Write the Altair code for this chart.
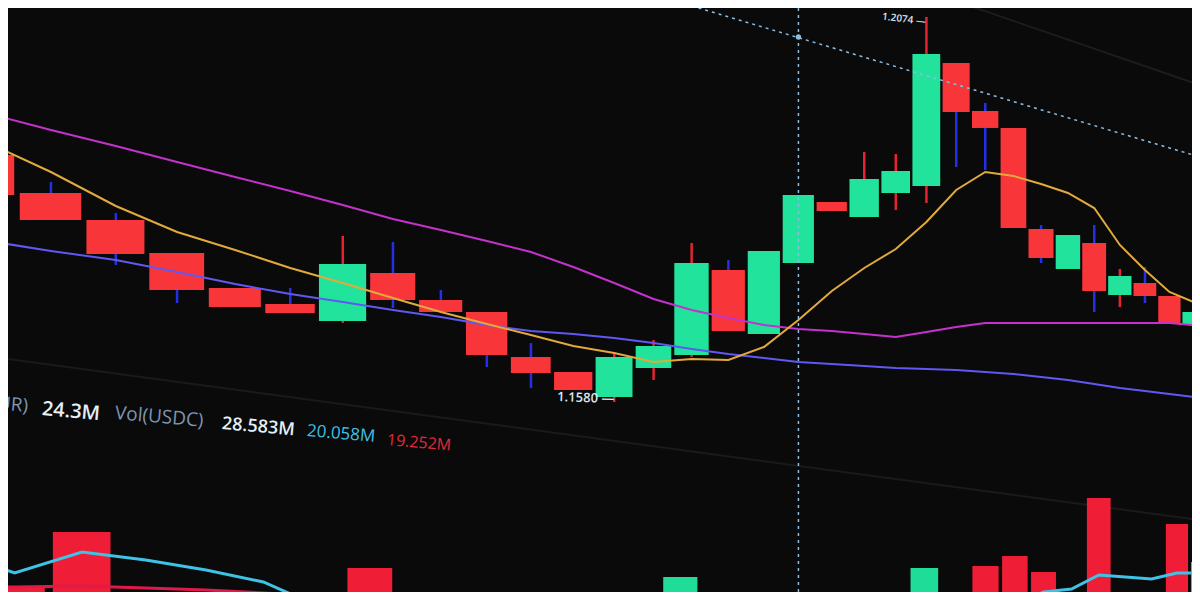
import altair as alt
import pandas as pd

# ---------------- data ----------------
idx = list(range(1, 33))
opens = [1.18969, 1.18482, 1.18135, 1.17712, 1.17263, 1.17058, 1.16840, 1.17455,
         1.17109, 1.16955, 1.16378, 1.16185, 1.15865, 1.16237, 1.16403, 1.17494,
         1.16673, 1.17584, 1.18366, 1.18174, 1.18482, 1.18572, 1.20150, 1.19534,
         1.19316, 1.18020, 1.17507, 1.17840, 1.17173, 1.17327, 1.17160, 1.16788]
highs = [1.18969, 1.18623, 1.18225, 1.17712, 1.17263, 1.17263, 1.17930, 1.17853,
         1.17237, 1.16955, 1.16557, 1.16185, 1.16429, 1.16596, 1.17840, 1.17622,
         1.17738, 1.18456, 1.18366, 1.19008, 1.18982, 1.20740, 1.20150, 1.19637,
         1.19316, 1.18071, 1.17943, 1.18071, 1.17507, 1.17532, 1.17160, 1.16955]
lows = [1.18456, 1.18135, 1.17558, 1.17070, 1.17019, 1.16942, 1.16814, 1.17006,
        1.16955, 1.16249, 1.15980, 1.15954, 1.15800, 1.16083, 1.16378, 1.16711,
        1.16673, 1.17584, 1.18251, 1.18174, 1.18264, 1.18354, 1.18815, 1.18777,
        1.18033, 1.17584, 1.17507, 1.16955, 1.17019, 1.17070, 1.16814, 1.16365]
closes = [1.18456, 1.18135, 1.17699, 1.17237, 1.17019, 1.16942, 1.17571, 1.17109,
          1.16955, 1.16403, 1.16172, 1.15954, 1.16378, 1.16519, 1.17584, 1.16711,
          1.17738, 1.18456, 1.18251, 1.18661, 1.18764, 1.20265, 1.19521, 1.19316,
          1.18033, 1.17648, 1.17943, 1.17224, 1.17417, 1.17160, 1.16814, 1.16955]
ma_fast = [1.19162, 1.18751, 1.18315, 1.17981, 1.17751, 1.17520, 1.17327, 1.17135,
           1.16955, 1.16801, 1.16660, 1.16519, 1.16429, 1.16314, 1.16352, 1.16339,
           1.16506, 1.16852, 1.17224, 1.17520, 1.17763, 1.18110, 1.18520, 1.18751,
           1.18700, 1.18597, 1.18482, 1.18289, 1.17815, 1.17494, 1.17212, 1.17083]
ma_mid = [1.19521, 1.19290, 1.19085, 1.18880, 1.18687, 1.18508, 1.18328, 1.18148,
          1.18007, 1.17866, 1.17725, 1.17532, 1.17327, 1.17122, 1.16981, 1.16878,
          1.16788, 1.16737, 1.16711, 1.16673, 1.16634, 1.16698, 1.16763, 1.16814,
          1.16814, 1.16814, 1.16814, 1.16814, 1.16814, 1.16814, 1.16814, 1.16788]
ma_slow = [1.17879, 1.17738, 1.17622, 1.17468, 1.17314, 1.17186, 1.17083, 1.16981,
           1.16891, 1.16788, 1.16711, 1.16673, 1.16622, 1.16557, 1.16480, 1.16416,
           1.16365, 1.16314, 1.16288, 1.16262, 1.16237, 1.16224, 1.16211, 1.16185,
           1.16160, 1.16121, 1.16083, 1.16031, 1.15980, 1.15942, 1.15903, 1.15865]
volumes = [7.0, 10.6, 21.6, 8.6, 7.0, 6.0, 7.0, 14.4, 7.0, 6.5, 6.0, 6.0, 7.0, 6.0,
           12.6, 9.0, 7.0, 6.0, 5.0, 6.0, 6.0, 14.4, 7.0, 14.8, 16.8, 13.6, 7.0,
           28.4, 8.6, 7.0, 23.2, 15.6]
vol_ma_fast = [18.4, 13.4, 17.6, 16.0, 14.0, 11.6, 6.8, 5.0, 4.0, 4.0, 4.0, 4.0,
               4.0, 4.0, 4.0, 4.0, 4.0, 4.0, 4.0, 4.0, 4.0, 4.0, 4.0, 4.0, 7.0,
               9.6, 10.2, 13.0, 12.6, 12.2, 13.4, 13.4]
vol_ma_slow = [10.4, 10.6, 10.8, 10.4, 10.0, 9.4, 8.8, 8.6, 8.6, 8.8, 8.4, 7.6,
               6.0, 6.0, 6.0, 6.0, 6.0, 6.0, 6.0, 6.0, 6.0, 6.0, 6.0, 6.0, 6.0,
               6.0, 6.0, 6.0, 6.0, 6.0, 6.0, 6.0]

# crosshair and faint screen lines (candle index, price)
cross_i = [18]
cross_p = [1.20483]
cross_line_i = [14.47, 32.27]
cross_line_p = [1.20958, 1.18944]
faint1_i = [1.26, 32.27]
faint1_p = [1.16365, 1.14286]
faint2_i = [22.88, 32.27]
faint2_p = [1.20958, 1.19867]

# volume header
vol_texts = ["Vol(EUR)", "24.3M", "Vol(USDC)", "28.583M", "20.058M", "19.252M"]

# ---------------- styling ----------------
BG = "#0a0a0a"
GREEN = "#22e39c"
RED = "#f8363a"
WICK_UP = "#e52430"
WICK_DN = "#2430e8"
VGREEN = "#1fdc98"
VRED = "#f01d37"
YELLOW = "#e2aa3c"
MAGENTA = "#c332cc"
VIOLET = "#6058f2"
CYAN = "#3ec2e6"
PINK = "#e01a4c"
CROSS = "#8cbde0"
FONT = "Open Sans"
OFF = 14.5  # perspective of the photographed screen (log-like x compression)

df = pd.DataFrame({
    "i": idx, "open": opens, "high": highs, "low": lows, "close": closes,
    "ma_fast": ma_fast, "ma_mid": ma_mid, "ma_slow": ma_slow,
    "vol": volumes, "vma_fast": vol_ma_fast, "vma_slow": vol_ma_slow,
})

xs_up = alt.Scale(type="log", domain=[15.87, 46.44], nice=False)
xs_vol = alt.Scale(type="log", domain=[16.405, 46.10], nice=False)
ys_px = alt.Scale(domain=[1.13363, 1.20855], nice=False, zero=False)
ys_vol = alt.Scale(domain=[9.6, 126.4], nice=False, zero=False)


def X(f):
    return alt.X(f"{f}:Q", scale=xs_up, axis=None)


def Y(f):
    return alt.Y(f"{f}:Q", scale=ys_px, axis=None)


def XV(f):
    return alt.X(f"{f}:Q", scale=xs_vol, axis=None)


def YV(f):
    return alt.Y(f"{f}:Q", scale=ys_vol, axis=None)


is_up = alt.datum.close >= alt.datum.open

base = alt.Chart(df).transform_calculate(
    xt=f"datum.i + {OFF}",
    xl=f"datum.i + {OFF} - 0.46",
    xr=f"datum.i + {OFF} + 0.46",
)


def guide(ii, pp):
    return alt.Chart(pd.DataFrame({"i": ii, "p": pp})).transform_calculate(
        xt=f"datum.i + {OFF}")


faint1 = guide(faint1_i, faint1_p).mark_line(color="#1a1a1a", strokeWidth=2, clip=True).encode(
    x=X("xt"), y=Y("p"))
faint2 = guide(faint2_i, faint2_p).mark_line(color="#1c1c1c", strokeWidth=2, clip=True).encode(
    x=X("xt"), y=Y("p"))

wicks = base.mark_rule(strokeWidth=2.5, clip=True).encode(
    x=X("xt"), y=Y("low"), y2="high:Q",
    color=alt.when(is_up).then(alt.value(WICK_UP)).otherwise(alt.value(WICK_DN)),
)
bodies = base.mark_rect(clip=True).encode(
    x=X("xl"), x2="xr:Q", y=Y("open"), y2="close:Q",
    color=alt.when(is_up).then(alt.value(GREEN)).otherwise(alt.value(RED)),
)
line_slow = base.mark_line(color=VIOLET, strokeWidth=2, clip=True).encode(x=X("xt"), y=Y("ma_slow"))
line_mid = base.mark_line(color=MAGENTA, strokeWidth=2, clip=True).encode(x=X("xt"), y=Y("ma_mid"))
line_fast = base.mark_line(color=YELLOW, strokeWidth=2, clip=True).encode(x=X("xt"), y=Y("ma_fast"))

cross_v = guide(cross_i, cross_p).mark_rule(
    color=CROSS, strokeWidth=1.5, strokeDash=[3, 4]).encode(x=X("xt"))
cross_h = guide(cross_line_i, cross_line_p).mark_line(
    color=CROSS, strokeWidth=1.5, strokeDash=[3, 4], clip=True).encode(x=X("xt"), y=Y("p"))
cross_dot = guide(cross_i, cross_p).mark_point(
    color=CROSS, filled=True, size=28, opacity=1).encode(x=X("xt"), y=Y("p"))

hi_label = base.transform_joinaggregate(maxh="max(high)").transform_filter(
    "datum.high == datum.maxh").transform_calculate(
    lbl="format(datum.high, '.4f') + ' —'").mark_text(
    align="right", baseline="middle", dy=5, fontSize=10, angle=7,
    font=FONT, fontWeight=600, color="#dbe6f0").encode(x=X("xt"), y=Y("high"), text="lbl:N")
lo_label = base.transform_joinaggregate(minl="min(low)").transform_filter(
    "datum.low == datum.minl").transform_calculate(
    lbl="format(datum.low, '.4f') + ' —'").mark_text(
    align="right", baseline="middle", dy=-3, fontSize=13, angle=2,
    font=FONT, fontWeight=600, color="#dbe6f0").encode(x=X("xt"), y=Y("low"), text="lbl:N")

price = alt.layer(faint1, faint2, wicks, bodies, line_slow, line_mid, line_fast,
                  cross_v, cross_h, cross_dot, hi_label, lo_label)

vbase = alt.Chart(df).transform_calculate(
    xv=f"datum.i + {OFF}",
    xvl=f"datum.i + {OFF} - 0.44",
    xvr=f"datum.i + {OFF} + 0.44",
)
vbars = vbase.mark_rect(clip=True).encode(
    x=XV("xvl"), x2="xvr:Q", y=YV("vol"), y2=alt.datum(0),
    color=alt.when(is_up).then(alt.value(VGREEN)).otherwise(alt.value(VRED)),
)
vline_slow = vbase.mark_line(color=PINK, strokeWidth=3, clip=True).encode(x=XV("xv"), y=YV("vma_slow"))
vline_fast = vbase.mark_line(color=CYAN, strokeWidth=3, clip=True).encode(x=XV("xv"), y=YV("vma_fast"))
volume = alt.layer(vbars, vline_slow, vline_fast)


def label(txt, x, y, size, color, weight="normal", align="left"):
    return alt.Chart(alt.Data(values=[{"t": txt}])).mark_text(
        align=align, baseline="middle", fontSize=size, font=FONT,
        fontWeight=weight, color=color, angle=5,
    ).encode(x=alt.value(x), y=alt.value(y), text="t:N")


texts = [
    label(vol_texts[0], 20, 398, 19, "#7d95b0", align="right"),
    label(vol_texts[1], 34, 401, 20, "#e6eef6", weight=600),
    label(vol_texts[2], 107, 405, 19, "#7d95b0"),
    label(vol_texts[3], 214, 416, 18, "#e6eef6", weight=600),
    label(vol_texts[4], 299, 423, 17, CYAN),
    label(vol_texts[5], 379, 432, 16, "#e5283c"),
]

chart = alt.layer(price, volume, *texts).resolve_scale(
    x="independent", y="independent"
).properties(
    width=1184, height=584, padding=0,
    autosize=alt.AutoSizeParams(type="none"),
).configure(background=BG).configure_view(strokeWidth=0)

chart.save("out.html", embed_options={"renderer": "svg", "actions": False})
